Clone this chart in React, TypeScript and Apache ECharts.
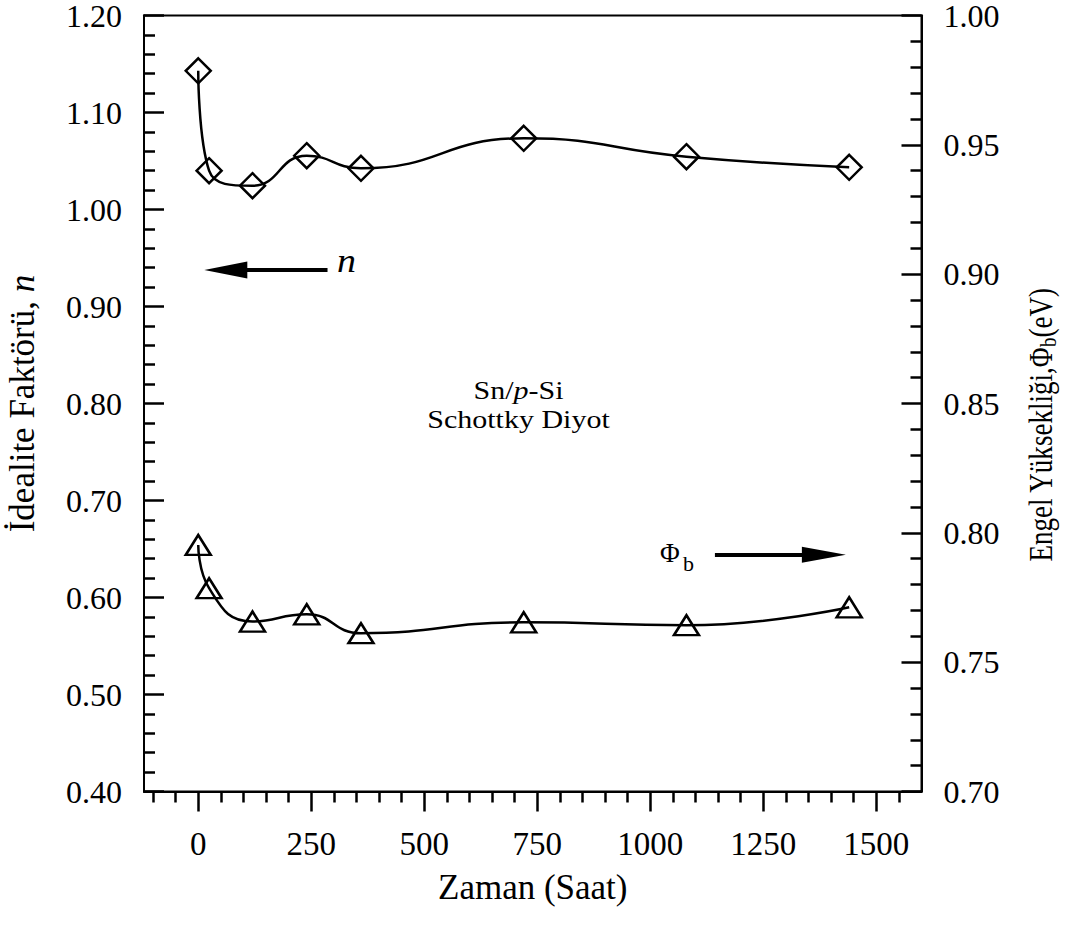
import React, { useEffect, useRef } from "react";
import * as echarts from "echarts";

const timeHours = [0, 24, 120, 240, 360, 720, 1080, 1440];
const idealityN = [1.143, 1.04, 1.0245, 1.0555, 1.0425, 1.0734, 1.0544, 1.0435];
const barrierPhiB = [0.7953, 0.7786, 0.7657, 0.7685, 0.7612, 0.7654, 0.7643, 0.7712];

const xMajorTicks = [0, 250, 500, 750, 1000, 1250, 1500];
const xMinorTicks = [
  -100, -50, 50, 100, 150, 200, 300, 350, 400, 450, 550, 600, 650, 700, 800, 850,
  900, 950, 1050, 1100, 1150, 1200, 1300, 1350, 1400, 1450, 1550,
];

const nArrowFrom = [286, 0.9376];
const nArrowTo = [61, 0.9376];
const phiArrowFrom = [1143, 0.7915];
const phiArrowTo = [1384, 0.7915];

const FONT = "'Liberation Serif', 'Times New Roman', serif";
const BLACK = "#000";
const axisLineStyle = { color: BLACK, width: 2 };
const tickStyle = { color: BLACK, width: 2.5 };

export default function App() {
  const ref = useRef<HTMLDivElement>(null);

  useEffect(() => {
    document.body.style.margin = "0";
    if (!ref.current) return;
    const chart = echarts.init(ref.current, undefined, { renderer: "svg" });

    const option: any = {
      animation: false,
      textStyle: { fontFamily: FONT, color: BLACK },
      grid: {
        left: 144,
        right: 146.5,
        top: 15.5,
        bottom: 133.5,
        show: true,
        borderColor: BLACK,
        borderWidth: 2,
        backgroundColor: "transparent",
        containLabel: false,
        outerBoundsMode: "none",
      },
      xAxis: [
        {
          type: "value",
          min: -120,
          max: 1600,
          position: "bottom",
          name: "Zaman (Saat)",
          nameLocation: "middle",
          nameGap: 78,
          nameTextStyle: { fontSize: 35, color: BLACK, fontFamily: FONT },
          axisLine: { show: true, onZero: false, lineStyle: axisLineStyle },
          axisTick: {
            show: true,
            inside: false,
            length: 20,
            lineStyle: tickStyle,
            customValues: xMajorTicks,
          },
          axisLabel: {
            show: true,
            margin: 36,
            fontSize: 33,
            color: BLACK,
            fontFamily: FONT,
            customValues: xMajorTicks,
            formatter: (v: number) => String(v),
          },
          splitLine: { show: false },
        },
        {
          type: "value",
          min: -120,
          max: 1600,
          position: "bottom",
          axisLine: { show: false },
          axisTick: {
            show: true,
            inside: false,
            length: 11,
            lineStyle: tickStyle,
            customValues: xMinorTicks,
          },
          axisLabel: { show: false },
          splitLine: { show: false },
        },
      ],
      yAxis: [
        {
          type: "value",
          position: "left",
          min: 0.4,
          max: 1.2,
          interval: 0.1,
          name: "{a|İdealite Faktörü, }{i|n}",
          nameLocation: "middle",
          nameRotate: 90,
          nameGap: 104,
          nameTextStyle: {
            fontSize: 35,
            color: BLACK,
            fontFamily: FONT,
            rich: {
              a: { fontSize: 35, fontFamily: FONT, color: BLACK },
              i: { fontSize: 35, fontFamily: FONT, fontStyle: "italic", color: BLACK },
            },
          },
          axisLine: { show: true, onZero: false, lineStyle: axisLineStyle },
          axisTick: { show: true, inside: true, length: 20, lineStyle: tickStyle },
          minorTick: { show: true, splitNumber: 5, length: 11, lineStyle: tickStyle },
          axisLabel: {
            fontSize: 32,
            margin: 22,
            color: BLACK,
            fontFamily: FONT,
            formatter: (v: number) => v.toFixed(2),
          },
          splitLine: { show: false },
          minorSplitLine: { show: false },
        },
        {
          type: "value",
          position: "right",
          min: 0.7,
          max: 1.0,
          interval: 0.05,
          axisLine: { show: true, onZero: false, lineStyle: axisLineStyle },
          axisTick: { show: true, inside: true, length: 20, lineStyle: tickStyle },
          minorTick: { show: true, splitNumber: 5, length: 11, lineStyle: tickStyle },
          axisLabel: {
            fontSize: 32,
            margin: 22,
            color: BLACK,
            fontFamily: FONT,
            formatter: (v: number) => v.toFixed(2),
          },
          splitLine: { show: false },
          minorSplitLine: { show: false },
        },
      ],
      series: [
        {
          type: "line",
          name: "n",
          xAxisIndex: 0,
          yAxisIndex: 0,
          data: timeHours.map((t, i) => [t, idealityN[i]]),
          smooth: 0.5,
          symbol: "diamond",
          symbolSize: 25,
          showSymbol: true,
          lineStyle: { color: BLACK, width: 2.5 },
          itemStyle: { color: "rgba(0,0,0,0)", borderColor: BLACK, borderWidth: 2.5 },
          markLine: {
            silent: true,
            symbol: ["none", "triangle"],
            symbolSize: [17, 43],
            lineStyle: { color: BLACK, width: 4, type: "solid" },
            itemStyle: { color: BLACK },
            label: { show: false },
            data: [[{ coord: nArrowFrom }, { coord: nArrowTo }]],
          },
        },
        {
          type: "line",
          name: "Φb",
          xAxisIndex: 0,
          yAxisIndex: 1,
          data: timeHours.map((t, i) => [t, barrierPhiB[i]]),
          smooth: 0.5,
          symbol: "triangle",
          symbolSize: [25, 20],
          showSymbol: true,
          lineStyle: { color: BLACK, width: 2.5 },
          itemStyle: { color: "rgba(0,0,0,0)", borderColor: BLACK, borderWidth: 2.5 },
          markLine: {
            silent: true,
            symbol: ["none", "triangle"],
            symbolSize: [16, 44],
            lineStyle: { color: BLACK, width: 4, type: "solid" },
            itemStyle: { color: BLACK },
            label: { show: false },
            data: [[{ coord: phiArrowFrom }, { coord: phiArrowTo }]],
          },
        },
      ],
      graphic: [
        {
          type: "text",
          x: 1041,
          y: 425,
          rotation: Math.PI / 2,
          scaleX: 0.82,
          style: {
            text: "{a|Engel Yüksekliği,Φ}{s|b}{a|(eV)}",
            fill: BLACK,
            align: "center",
            verticalAlign: "middle",
            rich: {
              a: { fontSize: 33, fontFamily: FONT, fill: BLACK, lineHeight: 38, verticalAlign: "middle" },
              s: { fontSize: 23, fontFamily: FONT, fill: BLACK, lineHeight: 18, verticalAlign: "bottom" },
            },
          },
        },
        {
          type: "text",
          x: 337,
          y: 261,
          scaleX: 1.15,
          style: {
            text: "n",
            fontSize: 33,
            fontFamily: FONT,
            fontStyle: "italic",
            fill: BLACK,
            verticalAlign: "middle",
            align: "left",
          },
        },
        {
          type: "text",
          x: 660,
          y: 553,
          style: { text: "Φ", fontSize: 27, fontFamily: FONT, fill: BLACK, verticalAlign: "middle", align: "left" },
        },
        {
          type: "text",
          x: 683,
          y: 563,
          style: { text: "b", fontSize: 22, fontFamily: FONT, fill: BLACK, verticalAlign: "middle", align: "left" },
        },
        {
          type: "text",
          x: 518.5,
          y: 390.5,
          scaleX: 1.2,
          style: {
            text: "{r|Sn/}{i|p}{r|-Si}",
            fill: BLACK,
            align: "center",
            verticalAlign: "middle",
            rich: {
              r: { fontSize: 25, fontFamily: FONT, fill: BLACK },
              i: { fontSize: 25, fontFamily: FONT, fontStyle: "italic", fill: BLACK },
            },
          },
        },
        {
          type: "text",
          x: 518.5,
          y: 419.5,
          scaleX: 1.2,
          style: {
            text: "Schottky Diyot",
            fontSize: 25,
            fontFamily: FONT,
            fill: BLACK,
            align: "center",
            verticalAlign: "middle",
          },
        },
      ],
    };

    chart.setOption(option);
    return () => chart.dispose();
  }, []);

  return <div ref={ref} style={{ width: 1068, height: 925 }} />;
}
